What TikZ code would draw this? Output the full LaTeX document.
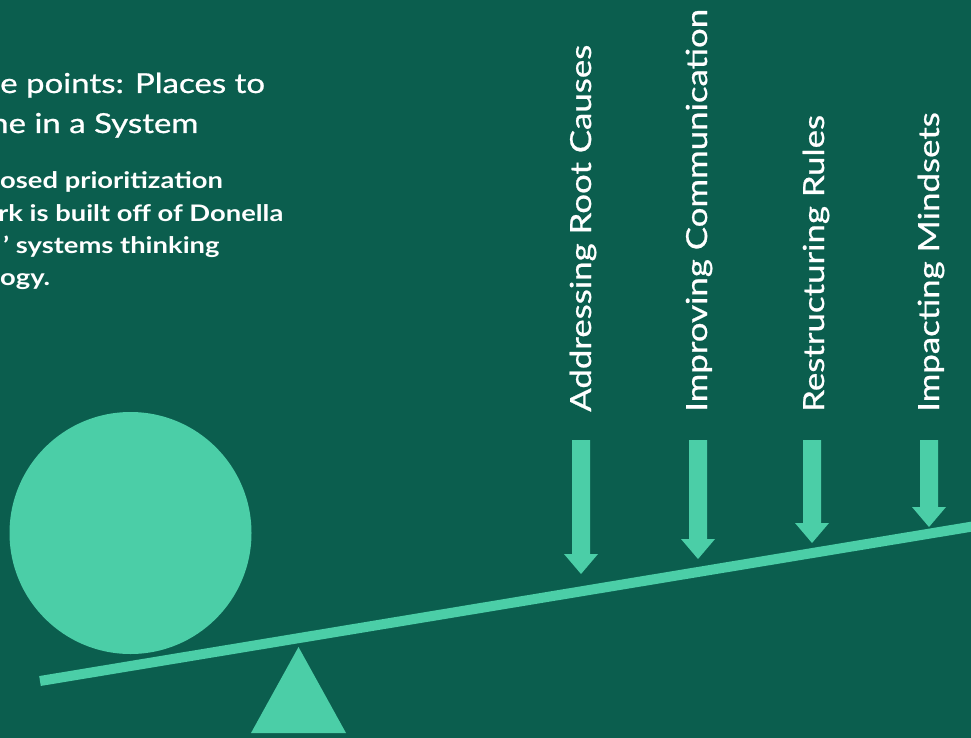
\documentclass[tikz,border=0pt]{standalone}
\usepackage{fontspec}
\setmainfont{Lato}[FakeStretch=1.2]
\newfontfamily\medio{Lato}[FakeStretch=1.2, FakeBold=0.8]
\definecolor{fondo}{HTML}{0B5E4E}
\definecolor{menta}{HTML}{4BCEA7}
\tikzset{
  titulo/.style={anchor=base west, inner sep=0pt, text=white, font=\medio\fontsize{27.5}{27.5}\selectfont},
  cuerpo/.style={anchor=base west, inner sep=0pt, text=white, font=\bfseries\fontsize{22.8}{22.8}\selectfont},
  etiqueta/.style={rotate=90, anchor=base west, inner sep=0pt, text=white, font=\medio\fontsize{29}{29}\selectfont},
}
\begin{document}
\begin{tikzpicture}[x=1pt,y=-1pt]

	% Fondo
	\useasboundingbox (0,0) rectangle (971,738);
	\fill[fondo] (0,0) rectangle (971,738);

	% Título y texto
	\node[titulo] (tit1) at (0,93) {e points: Places to};
	\node[titulo] (tit2) at (-10,133) {ne in a System};
	\node[cuerpo] (txt1) at (0,189) {osed prioritization};
	\node[cuerpo] (txt2) at (-2,221) {rk is built off of Donella};
	\node[cuerpo] (txt3) at (3,253) {’ systems thinking};
	\node[cuerpo] (txt4) at (0,285) {ogy.};

	% Palanca
	\fill[menta] (130.5,533) circle[radius=121];
	\draw[menta, line width=10pt] (40,681) -- (990,523.6);
	\fill[menta] (251,733) -- (346,733) -- (298.5,647) -- cycle;

	% Etiquetas
	\node[etiqueta] (causas) at (591,412) {Addressing Root Causes};
	\node[etiqueta] (comunic) at (707,412) {Improving Communication};
	\node[etiqueta] (reglas) at (824,412) {Restructuring Rules};
	\node[etiqueta] (mental) at (939,412) {Impacting Mindsets};

	% Flechas
	\foreach \x/\y in {581/574, 698/559, 812/543, 929/527}
		\fill[menta] (\x-9,440) -- (\x-9,\y-20) -- (\x-17,\y-20) -- (\x,\y)
			-- (\x+17,\y-20) -- (\x+9,\y-20) -- (\x+9,440) -- cycle;

\end{tikzpicture}
\end{document}
